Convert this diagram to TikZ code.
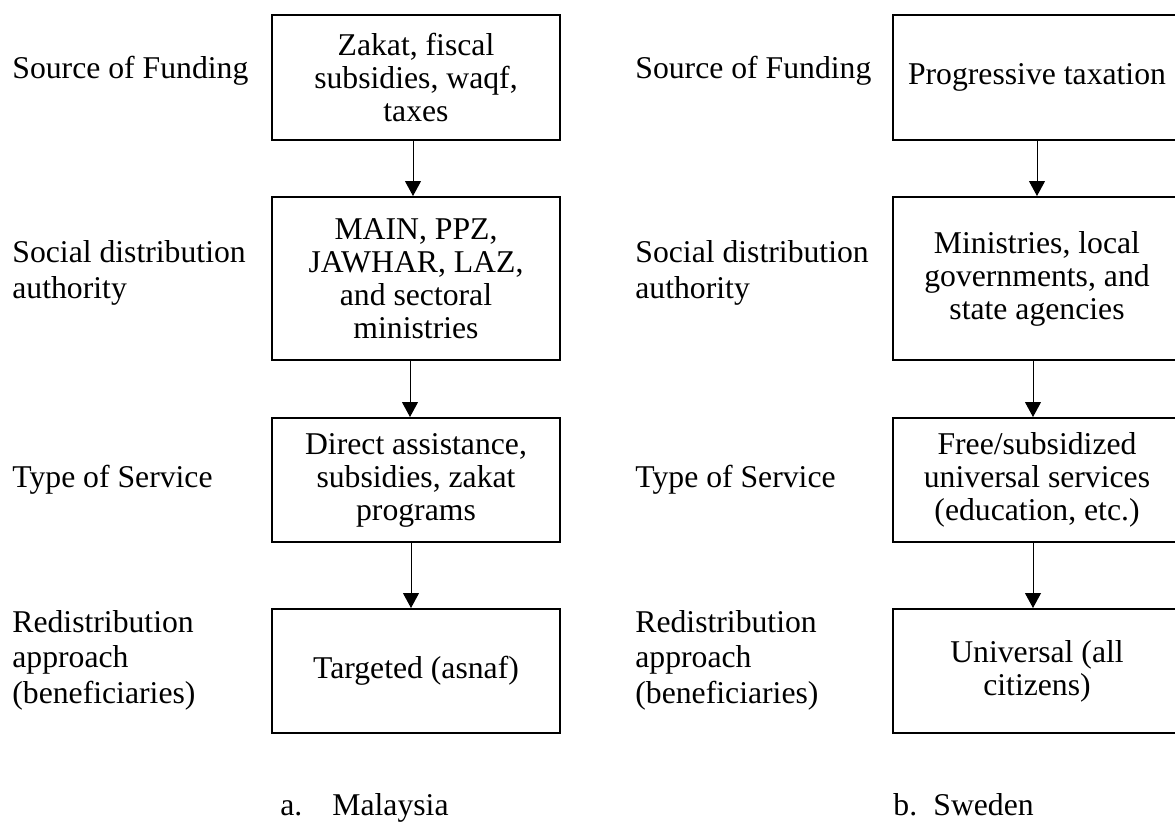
\documentclass[tikz,border=0pt]{standalone}
\usepackage{fontspec}
\setmainfont{Liberation Serif}
\usetikzlibrary{arrows.meta}
\begin{document}
\begin{tikzpicture}[x=0.5pt,y=-0.5pt,
  box/.style={draw,line width=1pt,minimum width=144pt,minimum height=#1,inner sep=0pt,align=center,font=\fontsize{15.85}{16.5}\selectfont},
  lab/.style={anchor=west,align=left,inner sep=0pt,font=\fontsize{15.85}{17.75}\selectfont},
  capt/.style={anchor=base west,inner sep=0pt,font=\fontsize{15.85}{17.75}\selectfont},
  arr/.style={-{Triangle[width=8pt,length=7.5pt]},line width=0.5pt}]
\useasboundingbox (0,0) rectangle (1175,821);
% left column (Malaysia)
\node[box=62.5pt] (L1) at (416,77.5) {Zakat, fiscal\\subsidies, waqf,\\taxes};
\node[box=81.5pt] (L2) at (416,278.5) {MAIN, PPZ,\\JAWHAR, LAZ,\\and sectoral\\ministries};
\node[box=62pt] (L3) at (416,480) {Direct assistance,\\subsidies, zakat\\programs};
\node[box=62pt] (L4) at (416,671) {Targeted (asnaf)};
\draw[arr] ([xshift=-1.5pt]L1.south) -- ([xshift=-1.5pt]L2.north);
\draw[arr] ([xshift=-3pt]L2.south) -- ([xshift=-3pt]L3.north);
\draw[arr] ([xshift=-2.5pt]L3.south) -- ([xshift=-2.5pt]L4.north);
\node[lab] (la1) at (12,71) {Source of Funding};
\node[lab] (la2) at (12,273) {Social distribution\\authority};
\node[lab] (la3) at (12,480) {Type of Service};
\node[lab] (la4) at (12,660) {Redistribution\\approach\\(beneficiaries)};
\node[capt] (ca1) at (280,815) {a.};
\node[capt] (ca2) at (332,815) {Malaysia};
% right column (Sweden)
\node[box=62.5pt] (R1) at (1037,77.5) {Progressive taxation};
\node[box=81.5pt] (R2) at (1037,278.5) {Ministries, local\\governments, and\\state agencies};
\node[box=62pt] (R3) at (1037,480) {Free/subsidized\\universal services\\(education, etc.)};
\node[box=62pt] (R4) at (1037,671) {Universal (all\\citizens)};
\draw[arr] (R1.south) -- (R2.north);
\draw[arr] ([xshift=-2pt]R2.south) -- ([xshift=-2pt]R3.north);
\draw[arr] ([xshift=-2pt]R3.south) -- ([xshift=-2pt]R4.north);
\node[lab] (ra1) at (635,71) {Source of Funding};
\node[lab] (ra2) at (635,273) {Social distribution\\authority};
\node[lab] (ra3) at (635,480) {Type of Service};
\node[lab] (ra4) at (635,660) {Redistribution\\approach\\(beneficiaries)};
\node[capt] (cb1) at (893,815) {b.};
\node[capt] (cb2) at (933,815) {Sweden};
\end{tikzpicture}
\end{document}
